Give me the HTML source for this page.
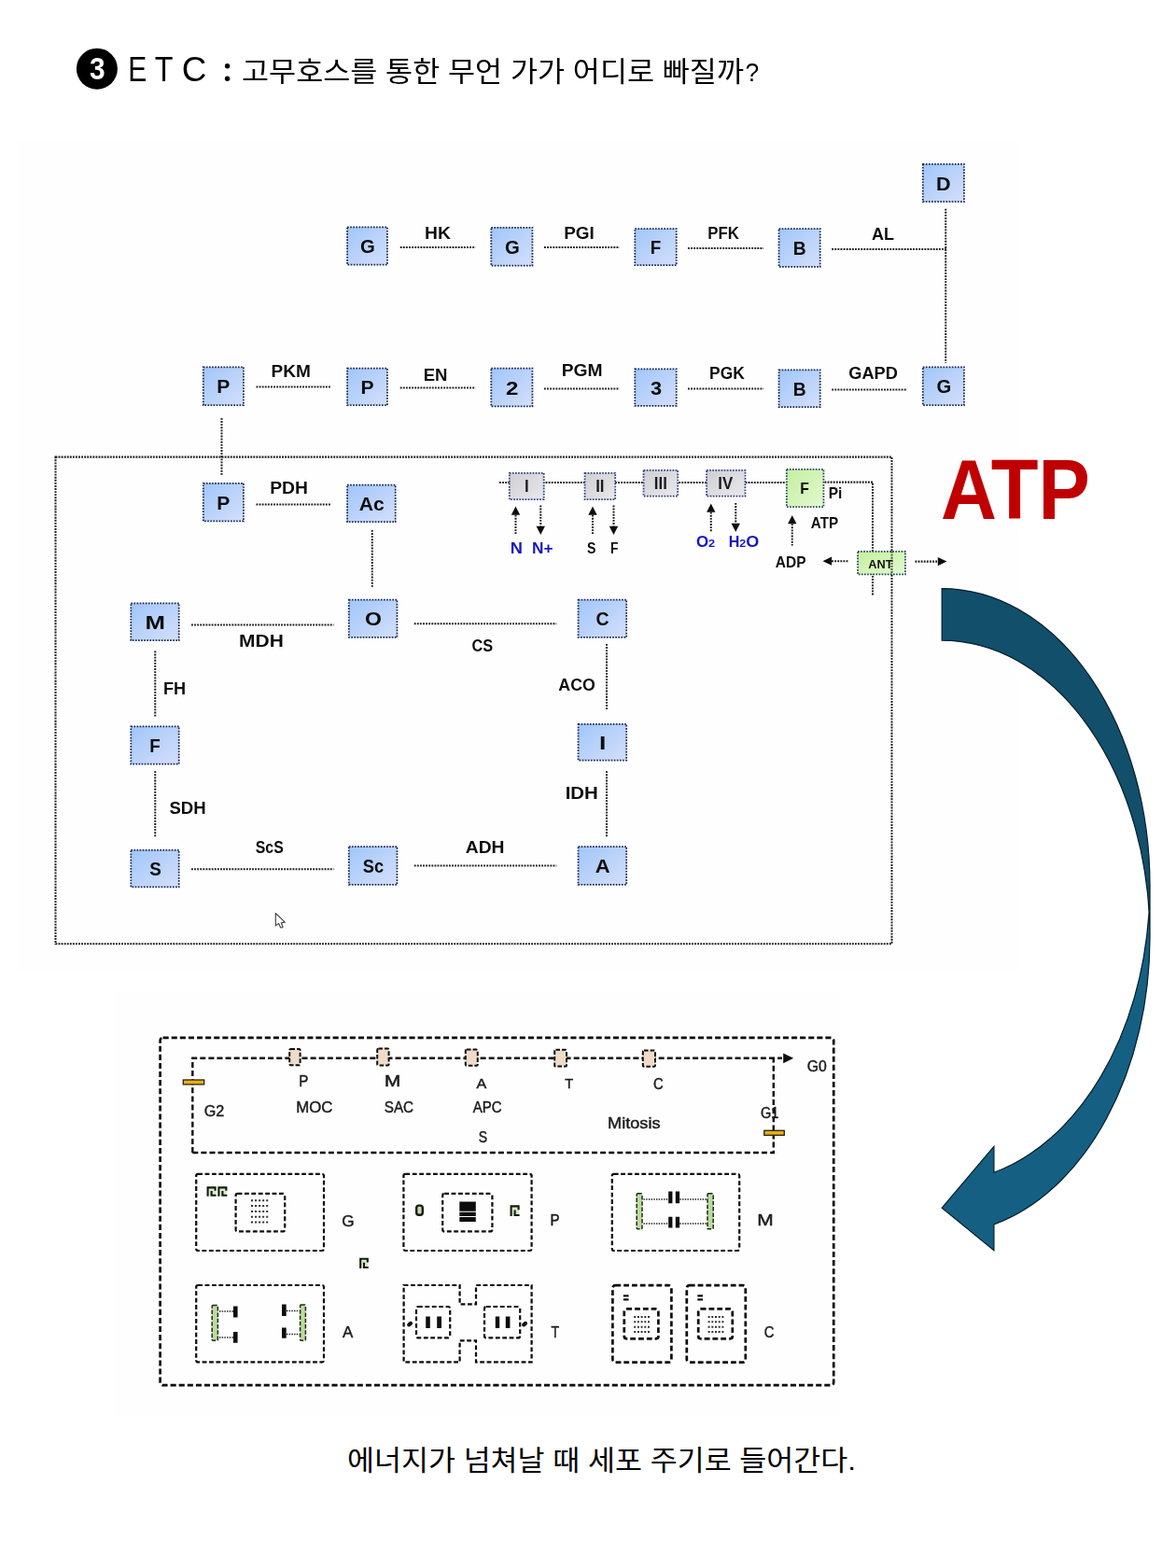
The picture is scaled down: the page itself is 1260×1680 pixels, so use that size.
<!DOCTYPE html>
<html lang="ko"><head><meta charset="utf-8"><title>ETC</title>
<style>
html,body{margin:0;padding:0;background:#fff;}
body{width:1260px;height:1680px;overflow:hidden;font-family:"Liberation Sans",sans-serif;}
svg{display:block;position:absolute;left:0;top:0}
text{font-family:"Liberation Sans",sans-serif;}
.b{font-weight:bold}
.r{font-weight:normal}
.dl{fill:none;stroke:#1e1e1e;stroke-width:2.05;stroke-dasharray:1.85 1.25}
.fr{fill:none;stroke:#1e1e1e;stroke-width:2.05;stroke-dasharray:1.9 1.17}
.ah{fill:#111;stroke:none}
.bx{stroke-width:1.8;stroke-dasharray:1.7 1.4}
.blue{fill:url(#gb);stroke:#1d2c55}
.gray{fill:url(#gg);stroke:#33447f}
.green{fill:url(#gn);stroke:#2b4a5f}
.dk{fill:none;stroke:#0a0a0a;stroke-width:2.7;stroke-dasharray:6.1 3}
.dk2{fill:none;stroke:#0a0a0a;stroke-width:2.4;stroke-dasharray:6 3.1}
.dk3{fill:none;stroke:#0a0a0a;stroke-width:2.2;stroke-dasharray:4.8 2.6}
.dk4{fill:none;stroke:#0a0a0a;stroke-width:2.7;stroke-dasharray:5.8 3}
.dt{fill:none;stroke:#1a1a1a;stroke-width:1.5;stroke-dasharray:1.4 1.3}
.r2{font-weight:normal;stroke:#1c1c1c;stroke-width:0.45}
.k{fill:#111}
</style></head><body>
<svg width="1260" height="1680" viewBox="0 0 1260 1680">
<defs>
<linearGradient id="gb" x1="0" y1="0" x2="1" y2="1"><stop offset="0" stop-color="#a0c6fa"/><stop offset="0.55" stop-color="#bdd4fa"/><stop offset="1" stop-color="#d4dffb"/></linearGradient>
<linearGradient id="gg" x1="0" y1="0" x2="1" y2="1"><stop offset="0" stop-color="#cfcfd3"/><stop offset="1" stop-color="#e9e9ec"/></linearGradient>
<linearGradient id="gn" x1="0" y1="0" x2="1" y2="1"><stop offset="0" stop-color="#c3f09f"/><stop offset="1" stop-color="#e3f9cf"/></linearGradient>
<filter id="idf" x="0" y="0" width="100%" height="100%"><feOffset dx="0" dy="0"/></filter>
<filter id="bl" x="-2%" y="-2%" width="104%" height="104%"><feGaussianBlur stdDeviation="0.55"/></filter>
</defs>
<rect width="1260" height="1680" fill="#fff"/>
<rect x="18.5" y="152" width="1071" height="887" fill="#fefefe"/>

<g id="title" filter="url(#idf)" aria-label="❸ E T C : 고무호스를 통한 무언 가가 어디로 빠질까?">
<circle cx="103.9" cy="73.7" r="22" fill="#000"/>
<text class="b" transform="translate(95.92,84.9) scale(0.89,1)" font-size="33.58" fill="#fff">3</text>
<text class="r" transform="translate(137.35,87) scale(0.8,1)" font-size="37.5" fill="#000">E</text>
<text class="r" transform="translate(165.67,87) scale(0.86,1)" font-size="37.5" fill="#000">T</text>
<text class="r" transform="translate(194.72,87.3) scale(0.99,1)" font-size="37.21" fill="#000">C</text>
<circle cx="243.6" cy="70.7" r="2.7" fill="#000"/><circle cx="243.6" cy="84.3" r="2.7" fill="#000"/>
<text class="r" x="259" y="87" font-size="29.5" fill="#000" textLength="538" lengthAdjust="spacingAndGlyphs" style="font-family:'Liberation Sans','Noto Sans CJK KR',sans-serif">고무호스를 통한 무언 가가 어디로 빠질까</text>
<text class="r" transform="translate(798.51,86.8) scale(0.94,1)" font-size="28.2" fill="#000">?</text>
</g>
<g id="d1" filter="url(#bl)">
<rect class="fr" x="59.5" y="489.6" width="896" height="521.6"/>
<path class="dl" d="M428.75 265H509.5"/>
<path class="dl" d="M583 265H663.75"/>
<path class="dl" d="M737 266H818"/>
<path class="dl" d="M891.25 267H1013.75"/>
<path class="dl" d="M1013.25 223.75V388.75"/>
<path class="dl" d="M274.5 414.5H355"/>
<path class="dl" d="M428.75 415.5H509.5"/>
<path class="dl" d="M583 416.5H663.75"/>
<path class="dl" d="M737 416.5H818"/>
<path class="dl" d="M891.25 417.5H972"/>
<path class="dl" d="M237.5 448V508.75"/>
<path class="dl" d="M274.5 540.5H355"/>
<path class="dl" d="M398.75 568V629.5"/>
<path class="dl" d="M205 669.5H357.5"/>
<path class="dl" d="M443.75 668.25H596.25"/>
<path class="dl" d="M205 931.25H357.5"/>
<path class="dl" d="M443.75 927.5H596.25"/>
<path class="dl" d="M166.25 697.5V768.75"/>
<path class="dl" d="M166.25 826.25V897.5"/>
<path class="dl" d="M650 690V760.5"/>
<path class="dl" d="M650 826.25V897.5"/>
<path class="dl" d="M535 517H842"/>
<path class="dl" d="M883.5 516.6H935V638.8"/>
<rect class="bx blue" x="372.05" y="243.3" width="42.9" height="40.4"/>
<text class="b" transform="translate(386.09,271.2) scale(0.97,1)" font-size="20.93" fill="#0a0a0a">G</text>
<rect class="bx blue" x="526.3" y="243.8" width="44.15" height="40.9"/>
<text class="b" transform="translate(540.96,271.95) scale(0.97,1)" font-size="20.93" fill="#0a0a0a">G</text>
<rect class="bx blue" x="680.3" y="245.05" width="44.4" height="39.15"/>
<text class="b" transform="translate(696.73,272.32) scale(0.9,1)" font-size="20.93" fill="#0a0a0a">F</text>
<rect class="bx blue" x="834.55" y="245.05" width="44.15" height="40.9"/>
<text class="b" transform="translate(849.76,273.2) scale(0.92,1)" font-size="20.93" fill="#0a0a0a">B</text>
<rect class="bx blue" x="988.8" y="175.8" width="44.15" height="40.4"/>
<text class="b" transform="translate(1003.1,203.7) scale(1.03,1)" font-size="20.93" fill="#0a0a0a">D</text>
<rect class="bx blue" x="217.8" y="393.3" width="43.15" height="40.9"/>
<text class="b" transform="translate(232.26,421.45) scale(1.01,1)" font-size="20.93" fill="#0a0a0a">P</text>
<rect class="bx blue" x="372.05" y="394.55" width="42.9" height="39.65"/>
<text class="b" transform="translate(386.38,422.07) scale(1.01,1)" font-size="20.93" fill="#0a0a0a">P</text>
<rect class="bx blue" x="526.3" y="394.55" width="44.15" height="40.9"/>
<text class="b" transform="translate(542.04,422.7) scale(1.15,1)" font-size="20.93" fill="#0a0a0a">2</text>
<rect class="bx blue" x="680.3" y="395.3" width="44.4" height="39.65"/>
<text class="b" transform="translate(696.9,422.82) scale(1.04,1)" font-size="20.93" fill="#0a0a0a">3</text>
<rect class="bx blue" x="834.55" y="396.3" width="44.15" height="39.9"/>
<text class="b" transform="translate(849.76,423.95) scale(0.92,1)" font-size="20.93" fill="#0a0a0a">B</text>
<rect class="bx blue" x="988.8" y="393.3" width="44.15" height="40.9"/>
<text class="b" transform="translate(1003.46,421.45) scale(0.97,1)" font-size="20.93" fill="#0a0a0a">G</text>
<rect class="bx blue" x="217.8" y="517.8" width="43.15" height="40.65"/>
<text class="b" transform="translate(232.26,545.82) scale(1.01,1)" font-size="20.93" fill="#0a0a0a">P</text>
<rect class="bx blue" x="372.05" y="519.55" width="51.65" height="39.65"/>
<text class="b" transform="translate(384.78,547.07) scale(1.01,1)" font-size="20.93" fill="#0a0a0a">Ac</text>
<rect class="bx blue" x="140.3" y="646.3" width="51.4" height="39.9"/>
<text class="b" transform="translate(155.58,673.95) scale(1.23,1)" font-size="20.93" fill="#0a0a0a">M</text>
<rect class="bx blue" x="373.8" y="642.55" width="51.65" height="40.4"/>
<text class="b" transform="translate(390.98,670.45) scale(1.1,1)" font-size="20.93" fill="#0a0a0a">O</text>
<rect class="bx blue" x="619.55" y="642.55" width="51.65" height="40.4"/>
<text class="b" transform="translate(638.5,670.45) scale(0.93,1)" font-size="20.93" fill="#0a0a0a">C</text>
<rect class="bx blue" x="140.3" y="778.3" width="51.4" height="40.4"/>
<text class="b" transform="translate(160.23,806.2) scale(0.9,1)" font-size="20.93" fill="#0a0a0a">F</text>
<rect class="bx blue" x="619.55" y="775.8" width="51.65" height="38.9"/>
<text class="b" transform="translate(642.01,802.95) scale(1.26,1)" font-size="20.93" fill="#0a0a0a">I</text>
<rect class="bx blue" x="140.3" y="910.8" width="51.4" height="39.65"/>
<text class="b" transform="translate(160.13,938.32) scale(0.9,1)" font-size="20.93" fill="#0a0a0a">S</text>
<rect class="bx blue" x="373.8" y="907.05" width="51.65" height="40.9"/>
<text class="b" transform="translate(388.77,935.2) scale(0.87,1)" font-size="20.93" fill="#0a0a0a">Sc</text>
<rect class="bx blue" x="619.55" y="907.05" width="51.65" height="40.9"/>
<text class="b" transform="translate(637.75,935.2) scale(1.05,1)" font-size="20.93" fill="#0a0a0a">A</text>
<rect class="bx gray" x="545.8" y="506.8" width="36.9" height="28.4"/>
<text class="b" transform="translate(561.91,527.4) scale(0.95,1)" font-size="17.73" fill="#1a1a1a">I</text>
<rect class="bx gray" x="626.55" y="506.8" width="32.65" height="28.4"/>
<text class="b" transform="translate(638.19,527.4) scale(0.95,1)" font-size="17.73" fill="#1a1a1a">II</text>
<rect class="bx gray" x="689.55" y="503.8" width="36.65" height="27.9"/>
<text class="b" transform="translate(700.85,524.15) scale(0.95,1)" font-size="17.73" fill="#1a1a1a">III</text>
<rect class="bx gray" x="757.05" y="503.8" width="41.4" height="27.9"/>
<text class="b" transform="translate(769.29,524.15) scale(0.95,1)" font-size="17.73" fill="#1a1a1a">IV</text>
<rect class="bx green" x="842.8" y="502.8" width="39.65" height="40.4"/>
<text class="b" transform="translate(857.25,528.8) scale(0.95,1)" font-size="16.57" fill="#111">F</text>
<rect class="bx green" x="919.05" y="590.8" width="50.9" height="24.65"/>
<text class="b" transform="translate(930.31,608.55) scale(0.95,1)" font-size="13.52" fill="#111">ANT</text>
<path class="fr" d="M955.5 590.6V616" opacity="0.75"/>
<path class="dl" d="M552.5 551.7V572"/>
<path class="ah" d="M552.5 542.5L557.2 551.7H547.8Z"/>
<path class="dl" d="M579.25 541.5V563.8"/>
<path class="ah" d="M579.25 573L583.95 563.8H574.55Z"/>
<path class="dl" d="M635 551.7V572"/>
<path class="ah" d="M635 542.5L639.7 551.7H630.3Z"/>
<path class="dl" d="M657.5 541.5V563.8"/>
<path class="ah" d="M657.5 573L662.2 563.8H652.8Z"/>
<path class="dl" d="M761.75 548.7V569.6"/>
<path class="ah" d="M761.75 539.5L766.45 548.7H757.05Z"/>
<path class="dl" d="M788.25 539V560.8"/>
<path class="ah" d="M788.25 570L792.95 560.8H783.55Z"/>
<path class="dl" d="M848.75 561.2V584.5"/>
<path class="ah" d="M848.75 552L853.45 561.2H844.05Z"/>
<path class="dl" d="M891.1 601.2H908.5"/>
<path class="ah" d="M881.5 601.2L891.1 596.6V605.8Z"/>
<path class="dl" d="M980.5 601.6H1004.8"/>
<path class="ah" d="M1014.4 601.6L1004.8 597V606.2Z"/>
<text class="b" transform="translate(454.97,256.25) scale(1.02,1)" font-size="18.9" fill="#111">HK</text>
<text class="b" transform="translate(604.24,256.25) scale(1,1)" font-size="18.9" fill="#111">PGI</text>
<text class="b" transform="translate(758.37,256.25) scale(0.89,1)" font-size="18.9" fill="#111">PFK</text>
<text class="b" transform="translate(934.05,256.5) scale(0.95,1)" font-size="18.9" fill="#111">AL</text>
<text class="b" transform="translate(290.47,403.6) scale(1.01,1)" font-size="18.9" fill="#111">PKM</text>
<text class="b" transform="translate(453.76,407.5) scale(0.98,1)" font-size="18.9" fill="#111">EN</text>
<text class="b" transform="translate(601.71,402.8) scale(1.02,1)" font-size="18.9" fill="#111">PGM</text>
<text class="b" transform="translate(760.09,406) scale(0.92,1)" font-size="18.9" fill="#111">PGK</text>
<text class="b" transform="translate(909.25,405.8) scale(0.95,1)" font-size="19.19" fill="#111">GAPD</text>
<text class="b" transform="translate(289.21,528.6) scale(1.02,1)" font-size="18.9" fill="#111">PDH</text>
<text class="b" transform="translate(256.1,693) scale(1.11,1)" font-size="18.9" fill="#111">MDH</text>
<text class="b" transform="translate(505.58,697.8) scale(0.89,1)" font-size="18.31" fill="#111">CS</text>
<text class="b" transform="translate(175.04,744) scale(0.96,1)" font-size="18.9" fill="#111">FH</text>
<text class="b" transform="translate(598.31,739.6) scale(0.94,1)" font-size="18.9" fill="#111">ACO</text>
<text class="b" transform="translate(181.46,872) scale(0.99,1)" font-size="18.75" fill="#111">SDH</text>
<text class="b" transform="translate(605.63,856.3) scale(1.08,1)" font-size="18.9" fill="#111">IDH</text>
<text class="b" transform="translate(273.79,914.4) scale(0.84,1)" font-size="18.9" fill="#111">ScS</text>
<text class="b" transform="translate(498.77,913.6) scale(1.02,1)" font-size="18.9" fill="#111">ADH</text>
<text class="b" transform="translate(546.78,592.5) scale(1.12,1)" font-size="16.28" fill="#1717c4">N</text>
<text class="b" transform="translate(570.09,592.5) scale(1.06,1)" font-size="16.28" fill="#1717c4">N+</text>
<text class="b" transform="translate(629.09,592.5) scale(0.87,1)" font-size="16.28" fill="#111">S</text>
<text class="b" transform="translate(654.08,592.5) scale(0.85,1)" font-size="16.28" fill="#111">F</text>
<text class="b" transform="translate(746.06,586) scale(1.02,1)" font-size="16.57" fill="#1717c4">O</text>
<text class="b" transform="translate(759.06,586) scale(1.12,1)" font-size="11.34" fill="#1717c4">2</text>
<text class="b" transform="translate(780.67,586) scale(0.97,1)" font-size="16.57" fill="#1717c4">H</text>
<text class="b" transform="translate(792.17,586) scale(1.1,1)" font-size="11.34" fill="#1717c4">2</text>
<text class="b" transform="translate(799.26,586) scale(1.09,1)" font-size="16.57" fill="#1717c4">O</text>
<text class="b" transform="translate(887.71,534) scale(0.95,1)" font-size="16.28" fill="#111">Pi</text>
<text class="b" transform="translate(868.87,565.8) scale(0.92,1)" font-size="16.57" fill="#111">ATP</text>
<text class="b" transform="translate(830.86,608) scale(0.92,1)" font-size="16.86" fill="#111">ADP</text>
<path d="M295.3 978.5V991.9L298.6 989.5L300.5 993.5Q301.8 994.7 303.1 993.2L301.3 988.8L305.3 988.1Z" fill="#fff" stroke="#404040" stroke-width="1.15" stroke-linejoin="round"/>
</g>
<g aria-label="ATP" fill="#c00000">
<text class="b" x="1008" y="555.8" font-size="90.5" fill="#c00000" textLength="160" lengthAdjust="spacingAndGlyphs">ATP</text>
</g>
<g id="arrow"><path d="M1009.2 1294.2L1064.9 1228.4V1256.25A222.8 317.92 0 0 0 1231.14 976.27A222.8 317.92 0 0 1 1064.9 1311.95V1339.8Z" fill="#156082"/><path d="M1232 1004.12A222.8 317.92 0 0 0 1009.2 686.2V630.5A222.8 317.92 0 0 1 1232 948.42Z" fill="#124f6b"/><path d="M1232 1004.12A222.8 317.92 0 0 0 1009.2 686.2V630.5A222.8 317.92 0 0 1 1232 948.42V1004.12A222.8 317.92 0 0 1 1064.9 1311.95V1339.8L1009.2 1294.2L1064.9 1228.4V1256.25A222.8 317.92 0 0 0 1231.14 976.27" fill="none" stroke="#06202e" stroke-width="1.25" stroke-linejoin="miter"/></g>
<rect x="122" y="1063" width="778" height="455" fill="#fefefe"/>
<g id="d2" filter="url(#bl)">
<rect class="dk" x="171.6" y="1111.8" width="721.6" height="372.4" rx="3"/>
<path class="dk2" d="M206.3 1235V1133.8H838"/>
<path class="dk2" d="M206.3 1235H828.8V1133.8"/>
<path class="ah" d="M850.2 1133.8L839.2 1128.4V1139.2Z"/>
<rect x="310.2" y="1124" width="11.4" height="17.2" rx="1.2" fill="#efdcc8" stroke="#0c0c0c" stroke-width="2" stroke-dasharray="4.6 2"/>
<rect x="404.2" y="1123.6" width="12.4" height="17.8" rx="1.2" fill="#efdcc8" stroke="#0c0c0c" stroke-width="2" stroke-dasharray="4.6 2"/>
<rect x="498.8" y="1124.6" width="13" height="17.2" rx="1.2" fill="#efdcc8" stroke="#0c0c0c" stroke-width="2" stroke-dasharray="4.6 2"/>
<rect x="594.2" y="1124.8" width="12.8" height="17.8" rx="1.2" fill="#efdcc8" stroke="#0c0c0c" stroke-width="2" stroke-dasharray="4.6 2"/>
<rect x="688.8" y="1125.4" width="13.2" height="17.4" rx="1.2" fill="#efdcc8" stroke="#0c0c0c" stroke-width="2" stroke-dasharray="4.6 2"/>
<rect x="196.3" y="1157" width="22.4" height="4.9" fill="#e6ad1e" stroke="#2a2208" stroke-width="1.3"/>
<rect x="818.8" y="1211.3" width="21.5" height="5" fill="#e6ad1e" stroke="#2a2208" stroke-width="1.3"/>
<text class="r2" transform="translate(218.68,1195.5) scale(0.96,1)" font-size="16.86" fill="#1c1c1c">G2</text>
<text class="r2" transform="translate(320.15,1164.2) scale(0.96,1)" font-size="15.84" fill="#1c1c1c">P</text>
<text class="r2" transform="translate(411.9,1164.4) scale(1.32,1)" font-size="15.7" fill="#1c1c1c">M</text>
<text class="r2" transform="translate(510.47,1165.6) scale(1.07,1)" font-size="15.12" fill="#1c1c1c">A</text>
<text class="r2" transform="translate(605.37,1165.6) scale(0.97,1)" font-size="15.12" fill="#1c1c1c">T</text>
<text class="r2" transform="translate(699.95,1167) scale(0.94,1)" font-size="15.7" fill="#1c1c1c">C</text>
<text class="r2" transform="translate(317.22,1192) scale(0.98,1)" font-size="17.15" fill="#1c1c1c">MOC</text>
<text class="r2" transform="translate(411.81,1192.4) scale(0.88,1)" font-size="17.3" fill="#1c1c1c">SAC</text>
<text class="r2" transform="translate(506.77,1192.4) scale(0.87,1)" font-size="17.3" fill="#1c1c1c">APC</text>
<text class="r2" transform="translate(512.76,1224.2) scale(0.83,1)" font-size="16.86" fill="#1c1c1c">S</text>
<text class="r2" transform="translate(651.01,1209.4) scale(1.06,1)" font-size="17.15" fill="#1c1c1c">Mitosis</text>
<text class="r2" transform="translate(864.71,1148.2) scale(0.95,1)" font-size="16.57" fill="#1c1c1c">G0</text>
<text class="r2" transform="translate(815.07,1198) scale(0.9,1)" font-size="16.13" fill="#1c1c1c">G1</text>
<text class="r2" transform="translate(366.14,1313.6) scale(1.04,1)" font-size="16.57" fill="#1c1c1c">G</text>
<text class="r2" transform="translate(589.57,1313) scale(0.96,1)" font-size="15.7" fill="#1c1c1c">P</text>
<text class="r2" transform="translate(811.28,1313.2) scale(1.31,1)" font-size="15.99" fill="#1c1c1c">M</text>
<text class="r2" transform="translate(366.97,1432.5) scale(1.05,1)" font-size="16.13" fill="#1c1c1c">A</text>
<text class="r2" transform="translate(590.43,1432.5) scale(0.88,1)" font-size="16.13" fill="#1c1c1c">T</text>
<text class="r2" transform="translate(818.75,1432.8) scale(0.89,1)" font-size="16.57" fill="#1c1c1c">C</text>
<rect class="dk3" x="210.2" y="1257.8" width="136.8" height="82.2" rx="2"/>
<rect class="dk3" x="252.6" y="1278.8" width="52.6" height="40.6" rx="2"/>
<path d="M269 1285.2h2v2h-2zM273.05 1285.2h2v2h-2zM277.1 1285.2h2v2h-2zM281.15 1285.2h2v2h-2zM285.2 1285.2h2v2h-2zM269 1291.05h2v2h-2zM273.05 1291.05h2v2h-2zM277.1 1291.05h2v2h-2zM281.15 1291.05h2v2h-2zM285.2 1291.05h2v2h-2zM269 1296.9h2v2h-2zM273.05 1296.9h2v2h-2zM277.1 1296.9h2v2h-2zM281.15 1296.9h2v2h-2zM285.2 1296.9h2v2h-2zM269 1302.75h2v2h-2zM273.05 1302.75h2v2h-2zM277.1 1302.75h2v2h-2zM281.15 1302.75h2v2h-2zM285.2 1302.75h2v2h-2zM269 1308.6h2v2h-2zM273.05 1308.6h2v2h-2zM277.1 1308.6h2v2h-2zM281.15 1308.6h2v2h-2zM285.2 1308.6h2v2h-2z" fill="#333"/>
<rect x="222.1" y="1271.9" width="9" height="9.4" fill="#bcd9a0" opacity="0.55"/>
<path d="M222.6 1281.8V1272.4H230.6V1275.77M226.6 1276.08V1280.8H231.6" fill="none" stroke="#141c10" stroke-width="2.1"/>
<rect x="233.9" y="1271.9" width="9" height="9.4" fill="#bcd9a0" opacity="0.55"/>
<path d="M234.4 1281.8V1272.4H242.4V1275.77M238.4 1276.08V1280.8H243.4" fill="none" stroke="#141c10" stroke-width="2.1"/>
<rect x="385.7" y="1348.3" width="8.6" height="10.2" fill="#bcd9a0" opacity="0.55"/>
<path d="M386.2 1359V1348.8H393.8V1352.5M390 1352.84V1358H394.8" fill="none" stroke="#141c10" stroke-width="2.1"/>
<rect x="547.1" y="1291.9" width="9" height="10.6" fill="#bcd9a0" opacity="0.55"/>
<path d="M547.6 1303V1292.4H555.6V1296.27M551.6 1296.62V1302H556.6" fill="none" stroke="#141c10" stroke-width="2.1"/>
<rect x="446.2" y="1291.6" width="6.6" height="10.2" rx="2.6" fill="#c4dcaa" stroke="#141c10" stroke-width="2.4"/>
<rect class="dk3" x="432.4" y="1257.8" width="137.2" height="82.2" rx="2"/>
<rect class="dk3" x="474.2" y="1278.8" width="53.2" height="40.6" rx="2"/>
<path class="k" d="M492.3 1287.6h17.5v10.2h-17.5zM492.3 1298.7h17.5v4.4h-17.5zM492.3 1304h17.5v5h-17.5z"/>
<rect class="dk3" x="655.8" y="1257.8" width="136.4" height="82.2" rx="2"/>
<rect x="682.2" y="1278.8" width="5.8" height="38" rx="1" fill="#bcdba0" stroke="#1c2a14" stroke-width="1.5" stroke-dasharray="4.5 1.8"/>
<rect x="758" y="1278.8" width="6.2" height="38" rx="1" fill="#bcdba0" stroke="#1c2a14" stroke-width="1.5" stroke-dasharray="4.5 1.8"/>
<path class="dt" d="M689.5 1285H716M728.4 1285H756.8M689.5 1311H716M728.4 1311H756.8"/>
<path class="k" d="M716.2 1276.4h4.2v12.8h-4.2zM723.8 1276.4h4.3v12.8h-4.3zM716.2 1303.8h4.2v11.8h-4.2zM723.8 1303.8h4.3v11.8h-4.3z"/>
<rect class="dk3" x="210.2" y="1377" width="136.8" height="82.4" rx="2"/>
<rect x="227.2" y="1398.4" width="6.2" height="37.8" rx="1" fill="#bcdba0" stroke="#1c2a14" stroke-width="1.5" stroke-dasharray="4.5 1.8"/>
<rect x="321.6" y="1398" width="5.8" height="38.2" rx="1" fill="#bcdba0" stroke="#1c2a14" stroke-width="1.5" stroke-dasharray="4.5 1.8"/>
<path class="dt" d="M235 1405H250M235 1433H250M307 1404.5H320.6M307 1429.5H320.6"/>
<path class="k" d="M250 1399.6h4.6v11.8h-4.6zM250 1427h4.6v11.8h-4.6zM302 1397.6h4.7v12.4h-4.7zM302 1422.4h4.7v11.4h-4.7z"/>
<path class="dk3" d="M432.6 1377H492.6V1397.4H510V1377H569.6V1459.4H510V1436.4H492.6V1459.4H432.6Z"/>
<rect class="dk3" x="446" y="1400" width="36.2" height="33.4" rx="2"/>
<rect class="dk3" x="519" y="1400" width="38.2" height="33.4" rx="2"/>
<path class="k" d="M456.2 1410.4h4.6v12.6h-4.6zM468.2 1410.4h4.8v12.6h-4.8zM530.8 1410.4h4.4v12.6h-4.4zM541.8 1410.4h4.6v12.6h-4.6z"/>
<g fill="#111"><ellipse cx="439.1" cy="1418.6" rx="3.3" ry="2.1" transform="rotate(-42 439.1 1418.6)"/><ellipse cx="562.1" cy="1418.6" rx="3.3" ry="2.1" transform="rotate(-42 562.1 1418.6)"/></g>
<rect class="dk4" x="656.4" y="1377.2" width="63" height="82.4" rx="3"/>
<path class="k" d="M667.9 1387.3h5.7v2.3h-5.7zM667.9 1391.2h5.7v2.3h-5.7z"/>
<rect class="dk4" x="668.8" y="1402.4" width="36.6" height="31.9" rx="2.5"/>
<path d="M679.2 1409.9h2v2h-2zM682.9 1409.9h2v2h-2zM686.6 1409.9h2v2h-2zM690.3 1409.9h2v2h-2zM694 1409.9h2v2h-2zM679.2 1415.27h2v2h-2zM682.9 1415.27h2v2h-2zM686.6 1415.27h2v2h-2zM690.3 1415.27h2v2h-2zM694 1415.27h2v2h-2zM679.2 1420.63h2v2h-2zM682.9 1420.63h2v2h-2zM686.6 1420.63h2v2h-2zM690.3 1420.63h2v2h-2zM694 1420.63h2v2h-2zM679.2 1426h2v2h-2zM682.9 1426h2v2h-2zM686.6 1426h2v2h-2zM690.3 1426h2v2h-2zM694 1426h2v2h-2z" fill="#333"/>
<rect class="dk4" x="735.8" y="1377.2" width="63" height="82.4" rx="3"/>
<path class="k" d="M747.3 1387.3h5.7v2.3h-5.7zM747.3 1391.2h5.7v2.3h-5.7z"/>
<rect class="dk4" x="748.2" y="1402.4" width="36.6" height="31.9" rx="2.5"/>
<path d="M758.6 1409.9h2v2h-2zM762.3 1409.9h2v2h-2zM766 1409.9h2v2h-2zM769.7 1409.9h2v2h-2zM773.4 1409.9h2v2h-2zM758.6 1415.27h2v2h-2zM762.3 1415.27h2v2h-2zM766 1415.27h2v2h-2zM769.7 1415.27h2v2h-2zM773.4 1415.27h2v2h-2zM758.6 1420.63h2v2h-2zM762.3 1420.63h2v2h-2zM766 1420.63h2v2h-2zM769.7 1420.63h2v2h-2zM773.4 1420.63h2v2h-2zM758.6 1426h2v2h-2zM762.3 1426h2v2h-2zM766 1426h2v2h-2zM769.7 1426h2v2h-2zM773.4 1426h2v2h-2z" fill="#333"/>
</g>
<g id="cap" aria-label="에너지가 넘쳐날 때 세포 주기로 들어간다.">
<text class="r" x="372" y="1575" font-size="30" fill="#000" textLength="545" lengthAdjust="spacingAndGlyphs" style="font-family:'Liberation Sans','Noto Sans CJK KR',sans-serif">에너지가 넘쳐날 때 세포 주기로 들어간다.</text>
</g>
</svg>
</body></html>
